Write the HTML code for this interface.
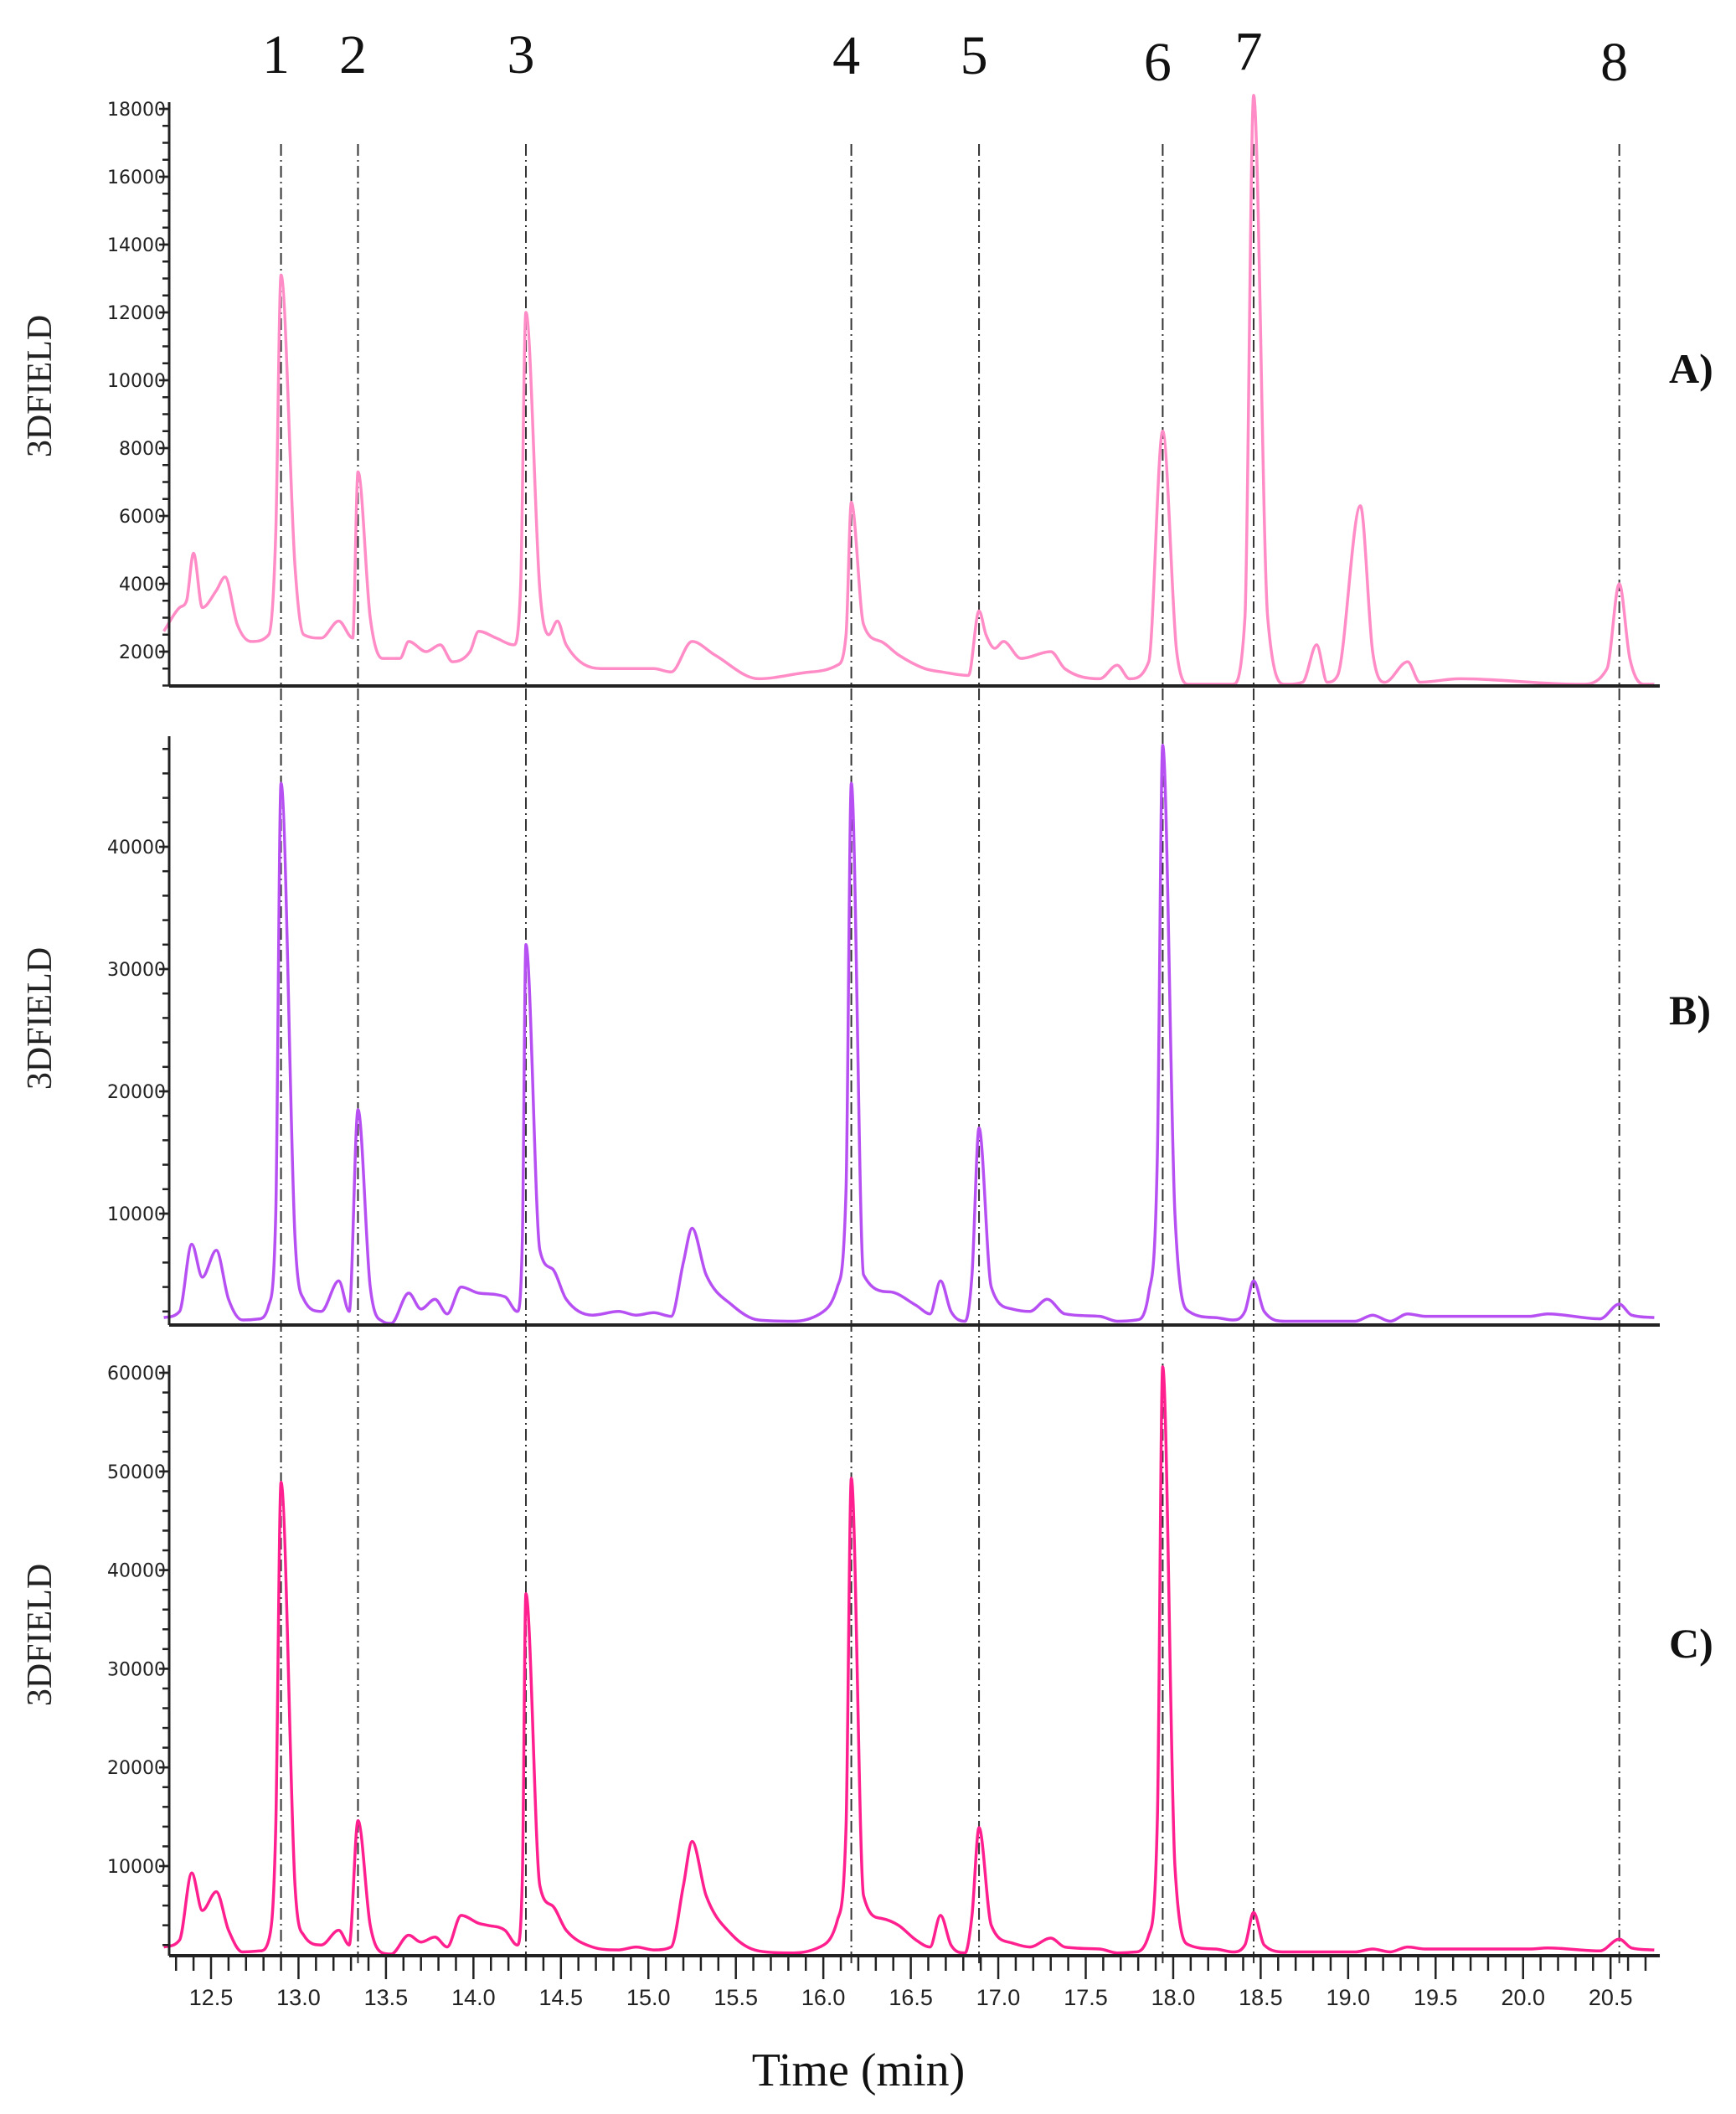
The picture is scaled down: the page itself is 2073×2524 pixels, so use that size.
<!DOCTYPE html>
<html><head><meta charset="utf-8"><style>
html,body{margin:0;padding:0;background:#fff;}
svg{display:block;}
</style></head><body>
<svg id="chart" width="2073" height="2524" viewBox="0 0 2073 2524" xmlns="http://www.w3.org/2000/svg"></svg>
<script>
// ---- data ----
const peakLabels = ["1","2","3","4","5","6","7","8"];
const peakTimes = [12.90, 13.34, 14.30, 16.16, 16.89, 17.94, 18.46, 20.55];
const xTickLabels = ["12.5","13.0","13.5","14.0","14.5","15.0","15.5","16.0","16.5","17.0","17.5","18.0","18.5","19.0","19.5","20.0","20.5"];
const aTimes = [12.23,12.32,12.36,12.40,12.45,12.53,12.58,12.65,12.73,12.83,12.87,12.90,12.98,13.03,13.13,13.23,13.31,13.34,13.41,13.48,13.58,13.63,13.73,13.81,13.88,13.98,14.03,14.13,14.23,14.27,14.30,14.38,14.43,14.48,14.53,14.73,15.03,15.13,15.25,15.38,15.63,15.93,16.08,16.13,16.16,16.23,16.33,16.43,16.58,16.68,16.83,16.89,16.93,16.98,17.03,17.13,17.30,17.38,17.58,17.68,17.75,17.86,17.94,18.02,18.09,18.34,18.41,18.46,18.54,18.64,18.74,18.82,18.88,18.94,19.07,19.14,19.21,19.34,19.41,19.64,20.33,20.48,20.55,20.61,20.69,20.75];
const aValues = [2600,3300,3500,4900,3300,3800,4200,2800,2300,2500,5500,13100,4500,2500,2400,2900,2400,7300,3000,1800,1800,2300,2000,2200,1700,2000,2600,2400,2200,4000,12000,3800,2500,2900,2200,1500,1500,1400,2300,1900,1200,1400,1600,2500,6400,2800,2300,1900,1500,1400,1300,3200,2500,2100,2300,1800,2000,1500,1200,1600,1200,1700,8500,2000,1000,1000,3000,18400,3000,1000,1100,2200,1100,1300,6300,2000,1100,1700,1100,1200,1000,1500,4000,1800,1000,1000];
const bTimes = [12.23,12.32,12.39,12.45,12.53,12.60,12.68,12.78,12.83,12.87,12.90,12.98,13.03,13.13,13.23,13.29,13.34,13.41,13.48,13.53,13.63,13.70,13.78,13.85,13.93,14.03,14.18,14.25,14.28,14.30,14.38,14.45,14.53,14.68,14.83,14.93,15.03,15.13,15.20,15.25,15.33,15.48,15.63,15.83,15.98,16.08,16.13,16.16,16.23,16.38,16.53,16.61,16.67,16.73,16.81,16.85,16.89,16.96,17.08,17.18,17.28,17.38,17.58,17.68,17.79,17.86,17.91,17.94,18.01,18.09,18.24,18.34,18.41,18.46,18.52,18.64,19.04,19.14,19.24,19.34,19.44,20.04,20.14,20.44,20.55,20.62,20.75];
const bValues = [1500,2000,7500,4800,7000,3000,1300,1400,2500,10000,45200,8000,3000,2000,4500,2000,18500,4000,1200,1000,3500,2200,3000,1800,4000,3500,3200,2000,8000,32000,7000,5500,3000,1700,2000,1700,1900,1600,6000,8800,5000,2500,1300,1200,1800,4000,12000,45200,5000,3600,2500,1800,4500,2000,1200,5000,17000,4000,2200,2000,3000,1800,1600,1200,1300,3500,15000,48300,10000,2000,1500,1300,2000,4500,2000,1200,1200,1700,1200,1800,1600,1600,1800,1400,2600,1700,1500];
const cTimes = [12.23,12.32,12.39,12.45,12.53,12.60,12.68,12.78,12.83,12.87,12.90,12.98,13.03,13.13,13.23,13.29,13.34,13.41,13.48,13.53,13.63,13.70,13.78,13.85,13.93,14.03,14.08,14.18,14.25,14.28,14.30,14.38,14.45,14.53,14.68,14.83,14.93,15.03,15.13,15.20,15.25,15.33,15.48,15.63,15.83,15.98,16.08,16.13,16.16,16.23,16.33,16.43,16.53,16.61,16.67,16.73,16.81,16.85,16.89,16.96,17.08,17.18,17.30,17.38,17.58,17.68,17.79,17.86,17.91,17.94,18.01,18.09,18.24,18.34,18.41,18.46,18.52,18.64,19.04,19.14,19.24,19.34,19.44,20.04,20.14,20.44,20.55,20.62,20.75];
const cValues = [1800,2500,9300,5500,7400,3500,1300,1400,2500,14000,48900,8000,3000,2000,3500,2000,14600,4000,1200,1000,3000,2300,2800,1800,5000,4200,4000,3500,2000,9000,37600,8000,6000,3500,1800,1500,1800,1500,1800,8000,12500,7000,3000,1400,1200,1800,4500,14000,49300,7000,4700,4000,2500,1800,5000,2000,1200,5000,13900,4000,2200,1800,2700,1800,1600,1200,1300,3000,15000,60600,10000,2000,1600,1300,2000,5300,2000,1300,1300,1600,1300,1800,1600,1600,1700,1400,2600,1700,1500];
const aYTicks = [2000,4000,6000,8000,10000,12000,14000,16000,18000];
const bYTicks = [10000,20000,30000,40000];
const cYTicks = [10000,20000,30000,40000,50000,60000];

// ---- layout ----
const NS = "http://www.w3.org/2000/svg";
const svg = document.getElementById("chart");
function el(tag, attrs, parent){ const e=document.createElementNS(NS,tag); for(const k in attrs) e.setAttribute(k,attrs[k]); (parent||svg).appendChild(e); return e; }
const X0 = 202, X1 = 1982;
function xs(t){ return 252 + (t - 12.5) * 208.9; }
function monoPath(px, py){
  const n=px.length, d=[], m=[];
  for(let i=0;i<n-1;i++) d.push((py[i+1]-py[i])/(px[i+1]-px[i]));
  m[0]=d[0]; m[n-1]=d[n-2];
  for(let i=1;i<n-1;i++){ m[i] = (d[i-1]*d[i]<=0)?0:(d[i-1]+d[i])/2; }
  for(let i=0;i<n-1;i++){
    if(d[i]===0){m[i]=0;m[i+1]=0;continue;}
    const a=m[i]/d[i], b=m[i+1]/d[i], s=a*a+b*b;
    if(s>9){const t=3/Math.sqrt(s); m[i]=t*a*d[i]; m[i+1]=t*b*d[i];}
  }
  let s="M"+px[0].toFixed(1)+","+py[0].toFixed(1);
  for(let i=0;i<n-1;i++){
    const h=(px[i+1]-px[i])/3;
    s+=" C"+(px[i]+h).toFixed(1)+","+(py[i]+m[i]*h).toFixed(1)+" "+(px[i+1]-h).toFixed(1)+","+(py[i+1]-m[i+1]*h).toFixed(1)+" "+px[i+1].toFixed(1)+","+py[i+1].toFixed(1);
  }
  return s;
}
const panels = [
  {key:"a", times:aTimes, values:aValues, ticks:aYTicks, minorStep:500, minorMin:1000, top:122, bottom:819, y:(v)=>778-(v-2000)*0.0405, color:"#ff8cc6", label:"A)", ly:440, ty:461},
  {key:"b", times:bTimes, values:bValues, ticks:bYTicks, minorStep:2000, minorMin:2000, top:879, bottom:1582, y:(v)=>1449-(v-10000)*0.0146, color:"#b750f2", label:"B)", ly:1206, ty:1216},
  {key:"c", times:cTimes, values:cValues, ticks:cYTicks, minorStep:2000, minorMin:2000, top:1630, bottom:2335, y:(v)=>2228-(v-10000)*0.01178, color:"#ff1f8e", label:"C)", ly:1962, ty:1952}
];

// dashed reference lines
peakTimes.forEach((t,i)=>{
  const l = el("line",{x1:xs(t),x2:xs(t),y1:172,y2:2345,stroke:"#333","stroke-width":2,"stroke-dasharray":"14,5,2,5"});
  
  
});
const numY = [87,87,87,88,88,96,83,96];
peakLabels.forEach((s,i)=>{
  const tx = el("text",{x:xs(peakTimes[i])-6,y:numY[i],"text-anchor":"middle","font-family":"Liberation Serif, serif","font-size":66,fill:"#111"});
  tx.textContent = s;
  
  
});

panels.forEach(p=>{
  const g = el("g",{});
  
  
  const px = p.times.map(xs), py = p.values.map(v=>Math.min(p.y(v), p.bottom-2));
  const line = el("path",{d:monoPath(px,py),fill:"none",stroke:p.color,"stroke-width":3.5,"stroke-linejoin":"round"},g);
  
  
  const ya = el("line",{x1:X0,x2:X0,y1:p.top,y2:p.bottom,stroke:"#222","stroke-width":3},g);
  
  
  const xa = el("line",{x1:X0,x2:X1,y1:p.bottom,y2:p.bottom,stroke:"#222","stroke-width":4},g);
  
  
  for(let v=p.minorMin; p.y(v)>=p.top-2; v+=p.minorStep){
    el("line",{x1:X0-8,x2:X0,y1:p.y(v),y2:p.y(v),stroke:"#222","stroke-width":2.5},g);
  }
  p.ticks.forEach(v=>{
    el("line",{x1:X0-12,x2:X0,y1:p.y(v),y2:p.y(v),stroke:"#222","stroke-width":2.5},g);
    const tl = el("text",{x:X0-4,y:p.y(v)+8,"text-anchor":"end","font-family":"DejaVu Sans, sans-serif","font-size":22,fill:"#222"},g);
    tl.textContent = String(v);
    
    
  });
  const yt = el("text",{x:48,y:p.ty,"text-anchor":"middle","font-family":"Liberation Serif, serif","font-size":42,fill:"#222",transform:"rotate(-90 48 "+p.ty+")","dominant-baseline":"central"},g);
  yt.textContent = "3DFIELD";
  
  
  const pl = el("text",{x:1993,y:p.ly+17,"font-family":"Liberation Serif, serif","font-weight":"bold","font-size":50,fill:"#111"},g);
  pl.textContent = p.label;
  
  
});

for(let k=123;k<=207;k++){
  const t=k/10, major=(k%5===0);
  el("line",{x1:xs(t),x2:xs(t),y1:2335,y2:major?2363:2353,stroke:"#222","stroke-width":2.5});
}
xTickLabels.forEach(s=>{
  const tl = el("text",{x:xs(parseFloat(s)),y:2394,"text-anchor":"middle","font-family":"Liberation Sans, sans-serif","font-size":27,fill:"#222"});
  tl.textContent = s;
  
  
});
const xt = el("text",{x:1025,y:2490,"text-anchor":"middle","font-family":"Liberation Serif, serif","font-size":56,fill:"#111"});
xt.textContent = "Time (min)";


</script>
</body></html>
